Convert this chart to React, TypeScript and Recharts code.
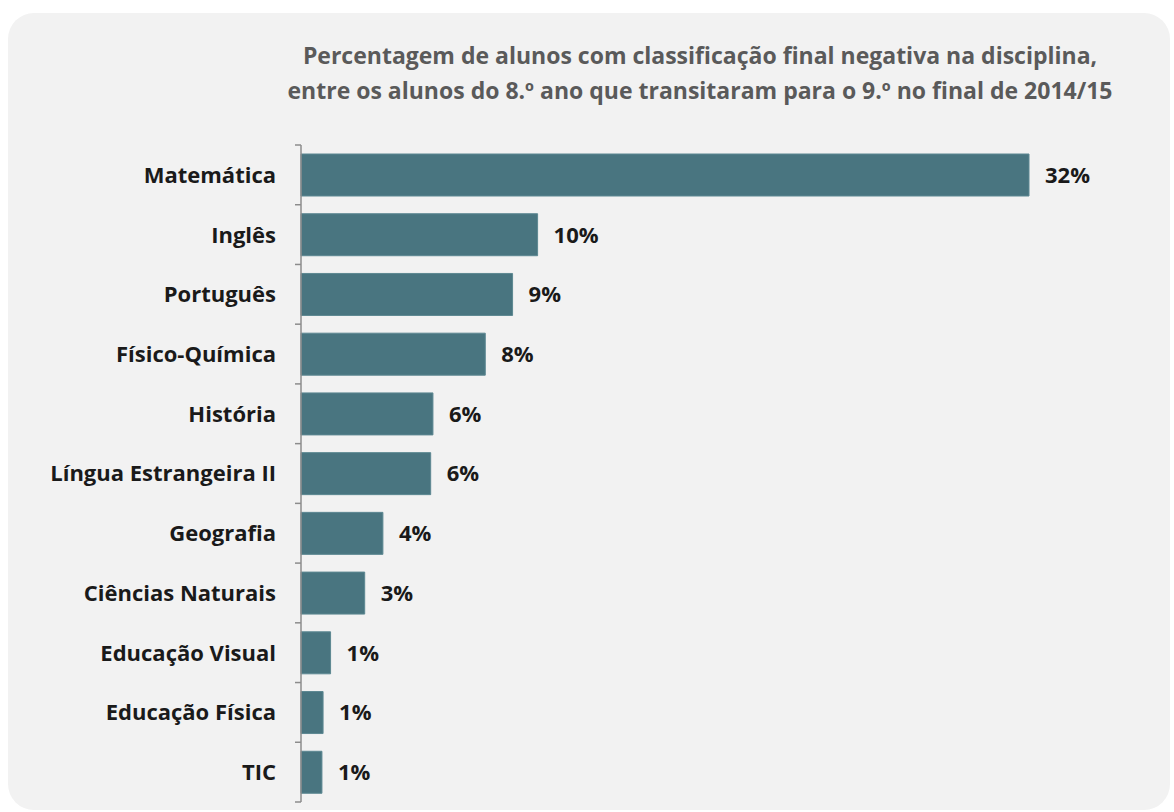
import React from "react";
import { BarChart, Bar, XAxis, YAxis, LabelList } from "recharts";

const categories = [
  "Matemática",
  "Inglês",
  "Português",
  "Físico-Química",
  "História",
  "Língua Estrangeira II",
  "Geografia",
  "Ciências Naturais",
  "Educação Visual",
  "Educação Física",
  "TIC",
];
const values = [32.0, 10.4, 9.3, 8.1, 5.8, 5.7, 3.6, 2.8, 1.3, 0.97, 0.92];
const valueLabels = ["32%", "10%", "9%", "8%", "6%", "6%", "4%", "3%", "1%", "1%", "1%"];
const titleLines = [
  "Percentagem de alunos com classificação final negativa na disciplina,",
  "entre os alunos do 8.º ano que transitaram para o 9.º no final de 2014/15",
];

const data = categories.map((c, i) => ({ name: c, value: values[i], label: valueLabels[i] }));

const FONT = "'Open Sans', Lato, sans-serif";
const AXIS = "#8c8c8c";

const CategoryTick = (props: any) => {
  const { x, y, payload, index } = props;
  const half = payload && payload.offset ? payload.offset : 29.86;
  const ax = x + 25;
  return (
    <g>
      <line x1={ax - 6} x2={ax} y1={y - half} y2={y - half} stroke={AXIS} strokeWidth={1.5} />
      {index === categories.length - 1 && (
        <line x1={ax - 6} x2={ax} y1={y + half} y2={y + half} stroke={AXIS} strokeWidth={1.5} />
      )}
      <text
        x={x}
        y={y}
        dy="0.36em"
        textAnchor="end"
        fontFamily={FONT}
        fontWeight={700}
        fontSize={22}
        fill="#1a1a1a"
      >
        {payload.value}
      </text>
    </g>
  );
};

export default function App() {
  return (
    <div style={{ position: "absolute", left: 0, top: 0, width: 1174, height: 812, background: "#ffffff", overflow: "hidden" }}>
      <div
        style={{
          position: "absolute",
          left: 8,
          top: 13,
          width: 1162,
          height: 797,
          borderRadius: 26,
          background: "#f2f2f2",
        }}
      />
      <div
        style={{
          position: "absolute",
          left: 100,
          width: 1200,
          top: 38,
          textAlign: "center",
          fontFamily: FONT,
          fontWeight: 700,
          fontSize: 23,
          lineHeight: "35px",
          color: "#5a5a5a",
        }}
      >
        {titleLines.map((t, i) => (
          <div key={i}>{t}</div>
        ))}
      </div>
      <div style={{ position: "absolute", left: 0, top: 0 }}>
        <BarChart
          width={1174}
          height={812}
          data={data}
          layout="vertical"
          margin={{ top: 145, right: 145, bottom: 10, left: 0 }}
          barSize={42}
        >
          <XAxis type="number" domain={[0, 32]} hide />
          <YAxis
            type="category"
            dataKey="name"
            width={301}
            axisLine={{ stroke: AXIS, strokeWidth: 1.5 }}
            tickLine={false}
            tickMargin={0}
            tickSize={0}
            interval={0}
            tick={(p: any) => <CategoryTick {...p} x={p.x - 25} />}
          />
          <Bar dataKey="value" fill="#497580" stroke="#5d8892" strokeWidth={1} isAnimationActive={false}>
            <LabelList
              dataKey="label"
              position="right"
              offset={16}
              fontFamily={FONT}
              fontWeight={700}
              fontSize={22}
              fill="#1a1a1a"
            />
          </Bar>
        </BarChart>
      </div>
    </div>
  );
}
